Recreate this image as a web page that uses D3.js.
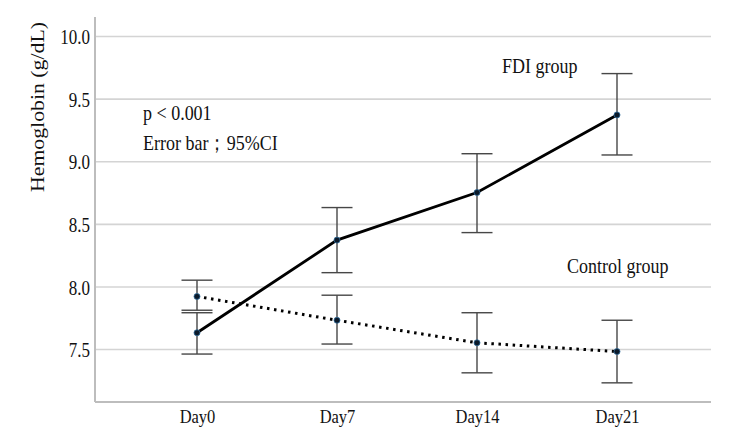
<!DOCTYPE html>
<html>
<head>
<meta charset="utf-8">
<script src="https://cdn.jsdelivr.net/npm/d3@7"></script>
<style>
  body { margin: 0; background: #fff; }
  svg text { fill: #111; }
</style>
</head>
<body>
<div id="wrapper"></div>
<script>
// data
const days = ["Day0", "Day7", "Day14", "Day21"]
const fdiMean = [7.63, 8.37, 8.75, 9.37]
const fdiLower = [7.46, 8.11, 8.43, 9.05]
const fdiUpper = [7.79, 8.63, 9.06, 9.70]
const controlMean = [7.92, 7.73, 7.55, 7.48]
const controlLower = [7.81, 7.54, 7.31, 7.23]
const controlUpper = [8.05, 7.93, 7.79, 7.73]
const yTicks = [7.5, 8.0, 8.5, 9.0, 9.5, 10.0]
const yDomain = [7.077, 10.152]

const serif = '"Liberation Serif", "Times New Roman", Times, serif'
// the reference text is drawn a bit taller than wide
const stretch = 1.17

function drawChart() {
  let dimensions = {
    width: 750,
    height: 440,
    margin: { top: 17, right: 39, bottom: 38, left: 95 },
  }
  dimensions.boundedWidth = dimensions.width - dimensions.margin.left - dimensions.margin.right
  dimensions.boundedHeight = dimensions.height - dimensions.margin.top - dimensions.margin.bottom

  const wrapper = d3.select("#wrapper")
    .append("svg")
      .attr("width", dimensions.width)
      .attr("height", dimensions.height)
      .style("font-family", serif)

  const bounds = wrapper.append("g")
      .attr("transform", `translate(${dimensions.margin.left},${dimensions.margin.top})`)

  // scales
  const yScale = d3.scaleLinear()
    .domain(yDomain)
    .range([dimensions.boundedHeight, 0])

  const xScale = d3.scalePoint()
    .domain(days)
    .range([102, 522])

  // grid lines
  const grid = bounds.append("g")
    .call(d3.axisLeft(yScale).tickValues(yTicks).tickSize(-dimensions.boundedWidth).tickFormat(""))
  grid.select(".domain").remove()
  grid.selectAll("line").attr("stroke", "#d4d4d4").attr("stroke-width", 1.6)

  // y axis labels
  const yAxis = bounds.append("g")
    .call(d3.axisLeft(yScale).tickValues(yTicks).tickSize(0).tickPadding(5).tickFormat(d3.format(".1f")))
  yAxis.attr("font-family", null)
  yAxis.select(".domain").remove()
  yAxis.selectAll("text")
      .attr("font-size", 17)
      .attr("dy", "0.39em")
      .attr("transform", `scale(1,${stretch})`)

  // x axis labels
  const xAxis = bounds.append("g")
      .attr("transform", `translate(0,${dimensions.boundedHeight})`)
    .call(d3.axisBottom(xScale).tickSize(0))
  xAxis.attr("font-family", null)
  xAxis.select(".domain").remove()
  xAxis.selectAll("text")
      .attr("font-size", 16.5)
      .attr("y", 18)
      .attr("dy", null)
      .attr("transform", `scale(1,${stretch})`)

  // axis frame lines
  bounds.append("line")
      .attr("x1", 0).attr("x2", 0)
      .attr("y1", 0).attr("y2", dimensions.boundedHeight)
      .attr("stroke", "#bdbdbd").attr("stroke-width", 2)
  bounds.append("line")
      .attr("x1", 0).attr("x2", dimensions.boundedWidth)
      .attr("y1", dimensions.boundedHeight).attr("y2", dimensions.boundedHeight)
      .attr("stroke", "#bdbdbd").attr("stroke-width", 2)

  const series = [
    { name: "FDI", mean: fdiMean, lower: fdiLower, upper: fdiUpper, dash: null },
    { name: "Control", mean: controlMean, lower: controlLower, upper: controlUpper, dash: "2.5,4.6" },
  ]

  // error bars
  const capHalf = 15.5
  series.forEach(s => {
    const g = bounds.append("g").attr("stroke", "#474747").attr("stroke-width", 1.4)
    days.forEach((d, i) => {
      const x = xScale(d)
      g.append("line")
          .attr("x1", x).attr("x2", x)
          .attr("y1", yScale(s.lower[i])).attr("y2", yScale(s.upper[i]))
      g.append("line")
          .attr("x1", x - capHalf).attr("x2", x + capHalf)
          .attr("y1", yScale(s.lower[i])).attr("y2", yScale(s.lower[i]))
      g.append("line")
          .attr("x1", x - capHalf).attr("x2", x + capHalf)
          .attr("y1", yScale(s.upper[i])).attr("y2", yScale(s.upper[i]))
    })
  })

  // lines
  const lineGenerator = d3.line()
    .x((d, i) => xScale(days[i]))
    .y(d => yScale(d))

  series.forEach(s => {
    bounds.append("path")
        .attr("d", lineGenerator(s.mean))
        .attr("fill", "none")
        .attr("stroke", "#000")
        .attr("stroke-width", s.dash ? 3 : 2.8)
        .attr("stroke-dasharray", s.dash)
  })

  // points
  series.forEach(s => {
    bounds.append("g").selectAll("circle")
      .data(s.mean)
      .join("circle")
        .attr("cx", (d, i) => xScale(days[i]))
        .attr("cy", d => yScale(d))
        .attr("r", 3)
        .attr("fill", "#0b1a2a")
        .attr("stroke", "#2f6b9a")
        .attr("stroke-width", 0.8)
  })

  // y axis title
  wrapper.append("text")
      .attr("transform", "translate(38,107) rotate(-90)")
      .attr("text-anchor", "middle")
      .attr("dominant-baseline", "central")
      .attr("font-size", 18)
      .attr("textLength", 170)
      .attr("lengthAdjust", "spacingAndGlyphs")
      .text("Hemoglobin (g/dL)")

  // annotations
  const annotations = [
    { text: "p < 0.001", x: 143, y: 120 },
    { text: "Error bar；95%CI", x: 143, y: 150 },
    { text: "FDI group", x: 502, y: 73 },
    { text: "Control group", x: 567, y: 273 },
  ]
  wrapper.append("g").selectAll("text")
    .data(annotations)
    .join("text")
      .attr("transform", d => `translate(${d.x},${d.y}) scale(1,${stretch})`)
      .attr("font-size", 18)
      .text(d => d.text)
}
drawChart()
</script>
</body>
</html>
